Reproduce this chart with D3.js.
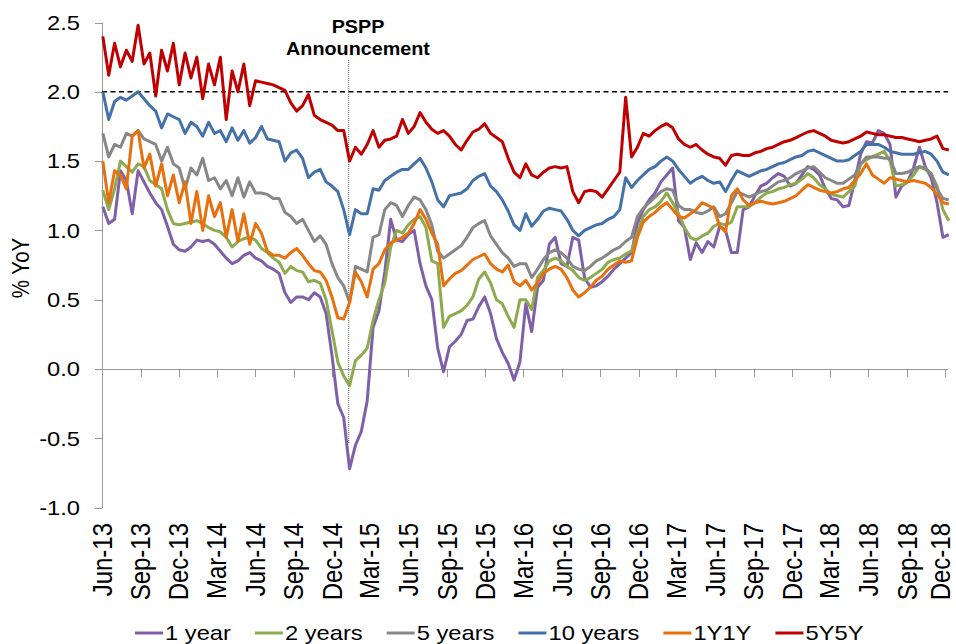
<!DOCTYPE html>
<html>
<head>
<meta charset="UTF-8">
<title>Inflation swaps</title>
<script src="https://cdn.jsdelivr.net/npm/d3@7"></script>
<style>
  body { margin: 0; background: #fff; }
  text { font-family: "Liberation Sans", Arial, sans-serif; fill: #000; }
  .series { fill: none; stroke-width: 3px; stroke-linejoin: round; }
  .axis path, .axis line { stroke: #999; stroke-width: 1px; shape-rendering: crispEdges; }
</style>
</head>
<body>
<script>
// ---- data (bi-weekly readings, % YoY) ----
var seriesNames = ["1 year", "2 years", "5 years", "10 years", "1Y1Y", "5Y5Y"];
var seriesColors = ["#7f60a8", "#8daa4f", "#878787", "#4472a8", "#e8700e", "#c00000"];

var oneYear = [1.17,1.05,1.08,1.43,1.36,1.12,1.43,1.35,1.27,1.2,
  1.15,1.03,0.9,0.86,0.85,0.88,0.93,0.92,0.93,0.9,
  0.85,0.8,0.76,0.78,0.82,0.84,0.8,0.78,0.74,0.72,
  0.69,0.55,0.48,0.52,0.52,0.5,0.55,0.52,0.4,0.1,
  -0.25,-0.35,-0.72,-0.55,-0.45,-0.23,0.3,0.42,0.7,1.08,
  0.93,0.92,0.97,1.0,0.76,0.6,0.5,0.15,-0.02,0.16,
  0.2,0.25,0.35,0.36,0.45,0.52,0.4,0.22,0.12,0.04,
  -0.08,0.05,0.47,0.27,0.59,0.64,0.9,0.95,0.76,0.74,
  0.95,0.93,0.66,0.59,0.6,0.63,0.67,0.72,0.76,0.8,
  0.84,1.05,1.15,1.22,1.27,1.35,1.4,1.45,1.07,1.02,
  0.79,0.91,0.84,0.92,0.88,1.03,1.0,0.84,0.84,1.15,
  1.17,1.25,1.32,1.34,1.38,1.41,1.39,1.32,1.34,1.4,
  1.46,1.44,1.4,1.3,1.23,1.22,1.17,1.18,1.36,1.55,
  1.64,1.63,1.72,1.7,1.62,1.24,1.32,1.35,1.45,1.6,
  1.46,1.38,1.2,0.95,0.97];

var twoYears = [1.29,1.15,1.3,1.5,1.46,1.42,1.48,1.46,1.36,1.33,
  1.3,1.15,1.05,1.04,1.05,1.06,1.07,1.05,1.02,1.0,
  0.99,0.95,0.88,0.92,0.94,0.95,0.93,0.87,0.84,0.8,
  0.77,0.69,0.74,0.71,0.7,0.63,0.64,0.62,0.5,0.28,
  0.05,-0.05,-0.12,0.06,0.1,0.15,0.35,0.5,0.62,0.88,
  1.0,0.98,1.04,1.08,1.1,1.02,0.78,0.76,0.3,0.38,
  0.4,0.42,0.46,0.52,0.65,0.7,0.62,0.5,0.47,0.38,
  0.3,0.5,0.5,0.43,0.66,0.71,0.78,0.8,0.78,0.74,
  0.71,0.66,0.64,0.66,0.69,0.72,0.77,0.79,0.8,0.83,
  0.85,0.98,1.1,1.15,1.17,1.21,1.27,1.2,1.12,1.02,
  0.95,0.93,0.96,0.98,1.03,1.05,1.04,1.06,1.17,1.17,
  1.17,1.2,1.24,1.27,1.28,1.3,1.31,1.33,1.34,1.37,
  1.41,1.38,1.33,1.3,1.26,1.25,1.24,1.28,1.32,1.48,
  1.51,1.53,1.55,1.57,1.5,1.32,1.33,1.35,1.4,1.46,
  1.44,1.41,1.32,1.15,1.07];

var fiveYears = [1.7,1.53,1.62,1.6,1.7,1.68,1.72,1.66,1.64,1.62,
  1.5,1.6,1.48,1.45,1.3,1.45,1.4,1.52,1.36,1.38,
  1.3,1.36,1.25,1.38,1.24,1.35,1.27,1.27,1.26,1.23,
  1.23,1.13,1.1,1.05,1.08,1.0,0.92,0.96,0.9,0.76,
  0.66,0.6,0.48,0.74,0.72,0.7,0.95,0.97,1.15,1.2,
  1.18,1.1,1.18,1.24,1.22,1.15,1.04,0.85,0.8,0.83,
  0.86,0.89,0.95,1.02,1.05,1.07,0.96,0.9,0.84,0.8,
  0.74,0.76,0.76,0.66,0.72,0.79,0.84,0.86,0.84,0.8,
  0.74,0.72,0.71,0.74,0.78,0.8,0.83,0.86,0.88,0.92,
  0.95,1.1,1.16,1.2,1.24,1.28,1.3,1.29,1.18,1.15,
  1.15,1.13,1.12,1.14,1.17,1.1,1.12,1.2,1.28,1.26,
  1.24,1.26,1.28,1.29,1.32,1.35,1.36,1.38,1.41,1.43,
  1.45,1.46,1.42,1.38,1.36,1.34,1.34,1.37,1.4,1.48,
  1.53,1.53,1.53,1.52,1.52,1.41,1.41,1.42,1.44,1.46,
  1.45,1.41,1.3,1.23,1.22];

var tenYears = [2.0,1.8,1.93,1.96,1.94,1.97,2.0,1.95,1.9,1.86,
  1.74,1.84,1.82,1.8,1.7,1.78,1.75,1.68,1.78,1.7,
  1.72,1.64,1.74,1.65,1.72,1.63,1.67,1.75,1.66,1.65,
  1.64,1.5,1.56,1.58,1.52,1.38,1.42,1.44,1.35,1.32,
  1.28,1.15,0.97,1.15,1.12,1.12,1.3,1.29,1.36,1.39,
  1.42,1.44,1.44,1.48,1.52,1.45,1.35,1.22,1.17,1.25,
  1.26,1.27,1.3,1.36,1.39,1.41,1.32,1.28,1.22,1.14,
  1.04,1.0,1.12,1.03,1.08,1.14,1.16,1.15,1.14,1.08,
  1.0,0.96,1.0,1.02,1.04,1.05,1.08,1.1,1.15,1.38,
  1.31,1.36,1.4,1.44,1.46,1.5,1.53,1.5,1.44,1.39,
  1.34,1.37,1.39,1.36,1.34,1.35,1.28,1.36,1.43,1.41,
  1.39,1.41,1.43,1.44,1.46,1.48,1.49,1.51,1.53,1.54,
  1.57,1.58,1.56,1.54,1.52,1.5,1.5,1.51,1.54,1.57,
  1.62,1.62,1.62,1.6,1.57,1.56,1.55,1.55,1.55,1.56,
  1.57,1.55,1.5,1.42,1.4];

var oneYoneY = [1.5,1.2,1.43,1.4,1.3,1.68,1.72,1.45,1.55,1.32,
  1.48,1.25,1.4,1.2,1.35,1.05,1.28,1.0,1.25,1.1,
  1.2,0.95,1.15,0.92,1.12,0.9,1.05,0.98,0.85,0.82,
  0.82,0.8,0.84,0.87,0.82,0.76,0.71,0.7,0.64,0.52,
  0.37,0.36,0.48,0.7,0.63,0.52,0.72,0.76,0.86,0.91,
  0.93,0.95,0.98,1.05,1.15,1.08,0.98,0.9,0.6,0.65,
  0.69,0.71,0.75,0.79,0.81,0.83,0.76,0.72,0.7,0.75,
  0.63,0.6,0.64,0.57,0.62,0.69,0.72,0.74,0.72,0.66,
  0.57,0.52,0.55,0.59,0.64,0.67,0.72,0.75,0.78,0.77,
  0.78,0.95,1.06,1.1,1.13,1.17,1.2,1.15,1.1,1.09,
  1.12,1.15,1.2,1.18,1.16,1.03,0.99,1.25,1.3,1.22,
  1.18,1.2,1.21,1.2,1.19,1.2,1.21,1.23,1.25,1.29,
  1.33,1.31,1.29,1.28,1.27,1.28,1.3,1.31,1.36,1.41,
  1.48,1.4,1.37,1.34,1.38,1.37,1.36,1.35,1.36,1.35,
  1.34,1.31,1.26,1.2,1.19];

var fiveYfiveY = [2.4,2.12,2.35,2.18,2.3,2.22,2.48,2.2,2.28,1.97,
  2.3,2.15,2.35,2.05,2.28,2.1,2.25,1.95,2.2,2.05,
  2.25,1.8,2.15,2.0,2.2,1.9,2.08,2.07,2.06,2.05,
  2.03,2.01,1.92,1.86,1.9,1.98,1.83,1.8,1.78,1.76,
  1.72,1.72,1.5,1.6,1.55,1.62,1.72,1.6,1.65,1.66,
  1.68,1.8,1.7,1.75,1.85,1.78,1.73,1.7,1.72,1.68,
  1.62,1.58,1.65,1.71,1.73,1.77,1.7,1.67,1.64,1.52,
  1.42,1.38,1.48,1.4,1.38,1.42,1.45,1.46,1.45,1.46,
  1.28,1.2,1.28,1.29,1.28,1.24,1.3,1.36,1.42,1.96,
  1.53,1.6,1.7,1.68,1.72,1.75,1.77,1.74,1.66,1.62,
  1.6,1.62,1.58,1.55,1.53,1.52,1.47,1.54,1.55,1.54,
  1.54,1.56,1.57,1.59,1.6,1.62,1.64,1.65,1.67,1.69,
  1.71,1.72,1.7,1.68,1.65,1.64,1.63,1.64,1.66,1.68,
  1.71,1.7,1.69,1.69,1.68,1.67,1.67,1.66,1.65,1.64,
  1.65,1.66,1.68,1.59,1.58];

var seriesValues = [oneYear, twoYears, fiveYears, tenYears, oneYoneY, fiveYfiveY];

// observation dates: every second Monday from 3 Jun 2013
var firstDate = new Date(2013, 5, 3);
var dates = oneYear.map(function(d, i) { return d3.timeDay.offset(firstDate, 14 * i); });

var yTicks = [-1.0, -0.5, 0.0, 0.5, 1.0, 1.5, 2.0, 2.5];
var xTicks = d3.timeMonth.range(new Date(2013, 5, 1), new Date(2018, 11, 2), 3);
var targetLevel = 2.0;
var psppDate = new Date(2015, 0, 10);
var psppLabel = ["PSPP", "Announcement"];

// ---- layout ----
var width = 956, height = 644;
var STRETCH = 1.13;   // the original picture is a little wider than tall
var plotLeft = 102, plotRight = 948;

var x = d3.scaleTime()
    .domain([new Date(2013, 5, 1), new Date(2018, 11, 1)])
    .range([102, 945]);
var y = d3.scaleLinear().domain([-1, 2.5]).range([507.6, 22.5]);

var svg = d3.select("body").append("svg")
    .attr("width", width)
    .attr("height", height)
    .style("display", "block");

svg.append("rect").attr("width", width).attr("height", height).attr("fill", "#fff");

// y axis
svg.append("g")
    .attr("class", "axis")
    .attr("transform", "translate(" + plotLeft + ",0)")
    .call(d3.axisLeft(y).tickValues(yTicks).tickSize(7).tickSizeOuter(0).tickFormat(""));

yTicks.forEach(function(v) {
    svg.append("text")
        .attr("transform", "translate(80," + y(v) + ") scale(" + STRETCH + ",1)")
        .attr("text-anchor", "end")
        .attr("dy", "0.35em")
        .attr("font-size", 21)
        .text(v.toFixed(1));
});

svg.append("text")
    .attr("transform", "translate(21,268) scale(" + STRETCH + ",1) rotate(-90)")
    .attr("text-anchor", "middle")
    .attr("dy", "0.35em")
    .attr("font-size", 20.5)
    .text("% YoY");

// x axis along zero
var xAxis = svg.append("g")
    .attr("class", "axis")
    .attr("transform", "translate(0," + y(0) + ")")
    .call(d3.axisBottom(x).tickValues(xTicks).tickSize(8).tickSizeOuter(0).tickFormat(""));
xAxis.select(".domain").remove();
xAxis.append("line")
    .attr("x1", plotLeft).attr("x2", plotRight)
    .attr("y1", 0.5).attr("y2", 0.5);

// rotated date labels; the last one is kept inside the picture edge
var fmt = d3.timeFormat("%b-%y");
xTicks.forEach(function(d) {
    var lx = Math.min(x(d) + 1, 941);
    svg.append("text")
        .attr("transform", "translate(" + lx + ",523) scale(" + STRETCH + ",1) rotate(-90)")
        .attr("text-anchor", "end")
        .attr("dy", "0.32em")
        .attr("font-size", 24)
        .text(fmt(d));
});

// 2% reference
svg.append("line")
    .attr("x1", plotLeft).attr("x2", plotRight)
    .attr("y1", y(targetLevel)).attr("y2", y(targetLevel))
    .attr("stroke", "#000")
    .attr("stroke-width", 1.5)
    .attr("stroke-dasharray", "5,3.5");

// PSPP marker
svg.append("line")
    .attr("x1", x(psppDate)).attr("x2", x(psppDate))
    .attr("y1", 60).attr("y2", y(-0.54))
    .attr("stroke", "#666")
    .attr("stroke-width", 1)
    .attr("stroke-dasharray", "1,1");

psppLabel.forEach(function(s, k) {
    svg.append("text")
        .attr("transform", "translate(358," + (33 + 22 * k) + ") scale(" + STRETCH + ",1)")
        .attr("text-anchor", "middle")
        .attr("font-size", 17.5)
        .attr("font-weight", "bold")
        .text(s);
});

// series
var line = d3.line()
    .x(function(d, i) { return x(dates[i]); })
    .y(function(d) { return y(d); });

seriesValues.forEach(function(vals, k) {
    svg.append("path")
        .attr("class", "series")
        .attr("stroke", seriesColors[k])
        .attr("d", line(vals));
});

// legend
var lx = 135;
seriesNames.forEach(function(name, k) {
    svg.append("line")
        .attr("x1", lx).attr("x2", lx + 28)
        .attr("y1", 633).attr("y2", 633)
        .attr("stroke", seriesColors[k])
        .attr("stroke-width", 3);
    var t = svg.append("text")
        .attr("transform", "translate(" + (lx + 30) + ",640) scale(" + STRETCH + ",1)")
        .attr("font-size", 21)
        .text(name);
    lx += 30 + t.node().getComputedTextLength() * STRETCH + 24;
});
</script>
</body>
</html>
